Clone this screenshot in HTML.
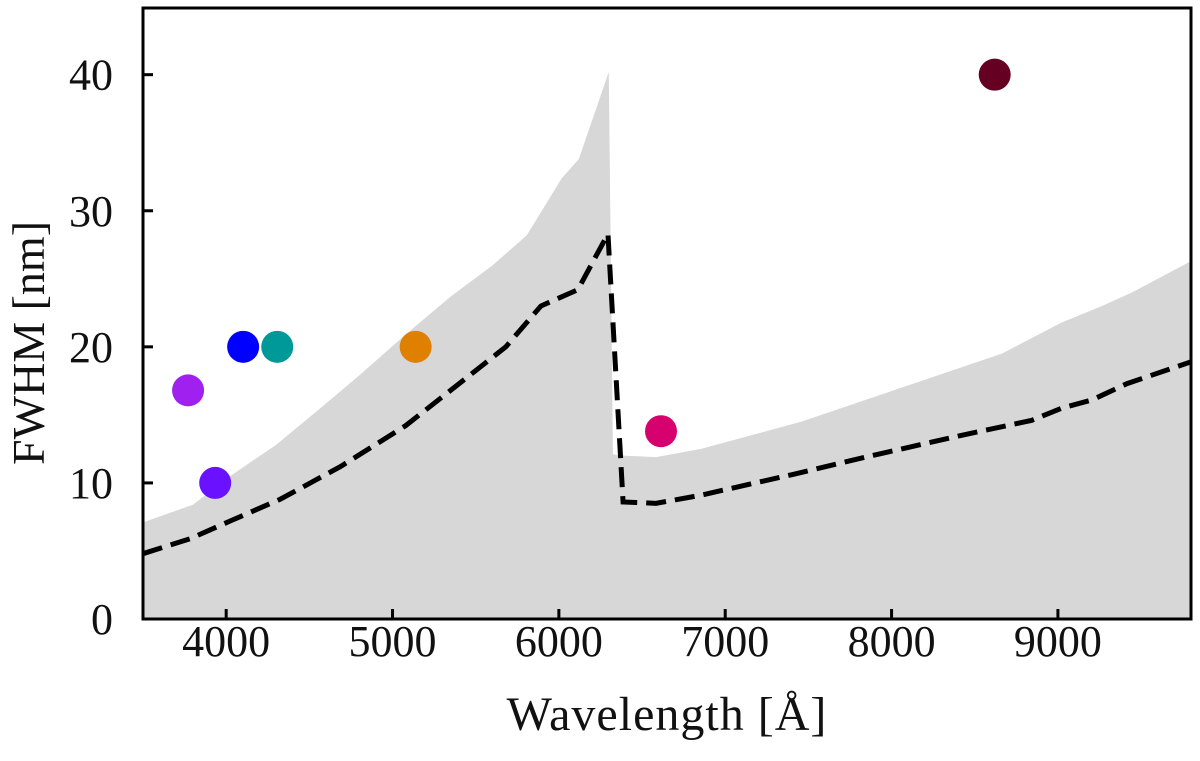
<!DOCTYPE html>
<html><head><meta charset="utf-8"><style>
body{margin:0;background:#fff;}
svg text{font-family:"Liberation Serif",serif;fill:#111;}
</style></head><body>
<svg id="chart" width="1200" height="756" xmlns="http://www.w3.org/2000/svg"></svg>
<script>
const bandX=[3500,3800,4024,4300,4548,4800,5078,5350,5602,5807,6018,6120,6300,6325,6400,6584,6855,7458,8060,8663,9024,9265,9446,9800];
const bandY=[7.1,8.4,10.5,12.8,15.3,17.9,20.9,23.7,26,28.2,32.4,33.8,40.2,12.1,12,11.9,12.5,14.5,17,19.5,21.8,23,24,26.3];
const lineX=[3500,3783,4024,4325,4687,5078,5349,5681,5892,6114,6295,6386,6584,6855,7398,7880,8422,8843,9024,9205,9416,9800];
const lineY=[4.8,5.9,7.2,8.8,11.2,14.2,16.8,20,23,24.2,28.3,8.6,8.5,9.1,10.6,12,13.5,14.6,15.5,16.1,17.3,18.9];
const ptX=[3771,3934,4102,4307,5139,6614,8620];
const ptY=[16.8,10,20,20,20,13.8,40];
const ptC=["#a020f0","#6a11ff","#0000ff","#009999","#e08000","#d6006e","#660022"];
const xTicks=[4000,5000,6000,7000,8000,9000];
const yTicks=[0,10,20,30,40];
const L=143,R=1191,T=8,B=619,x0=3500,x1=9800,y0=0,y1=45;
const sx=v=>L+(v-x0)/(x1-x0)*(R-L);
const sy=v=>B-(v-y0)/(y1-y0)*(B-T)*(45/44.9);
const NS="http://www.w3.org/2000/svg";
const svg=document.getElementById('chart');
function mk(t,a){const e=document.createElementNS(NS,t);for(const k in a)e.setAttribute(k,a[k]);svg.appendChild(e);return e;}
let d=bandX.map((x,i)=>(i?'L':'M')+sx(x)+','+sy(bandY[i])).join('')+'L'+sx(x1)+','+sy(0)+'L'+sx(x0)+','+sy(0)+'Z';
const band=mk('path',{d:d,fill:'#d7d7d7'});


const ln=mk('path',{d:lineX.map((x,i)=>(i?'L':'M')+sx(x)+','+sy(lineY[i])).join(''),fill:'none',stroke:'#000','stroke-width':5,'stroke-dasharray':'20,9'});


ptX.forEach((x,i)=>{const c=mk('circle',{cx:sx(x),cy:sy(ptY[i]),r:16,fill:ptC[i]});

});
const fr=mk('rect',{x:L,y:T,width:R-L,height:B-T,fill:'none',stroke:'#000','stroke-width':3});


xTicks.forEach(v=>{mk('line',{x1:sx(v),x2:sx(v),y1:B,y2:B-10,stroke:'#000','stroke-width':3});
const t=mk('text',{x:sx(v),y:B+37,'font-size':44,'text-anchor':'middle'});t.textContent=v;

});
yTicks.forEach(v=>{mk('line',{x1:L,x2:L+10,y1:sy(v),y2:sy(v),stroke:'#000','stroke-width':3});
const t=mk('text',{x:L-30,y:sy(v)+15,'font-size':44,'text-anchor':'end'});t.textContent=v;

});
const xt=mk('text',{x:667,y:730,'font-size':48,'text-anchor':'middle','letter-spacing':'1'});xt.textContent='Wavelength [Å]';


const yt=mk('text',{x:0,y:0,'font-size':46,'text-anchor':'middle',transform:'translate(44,343) rotate(-90)'});yt.textContent='FWHM [nm]';


</script>
</body></html>
